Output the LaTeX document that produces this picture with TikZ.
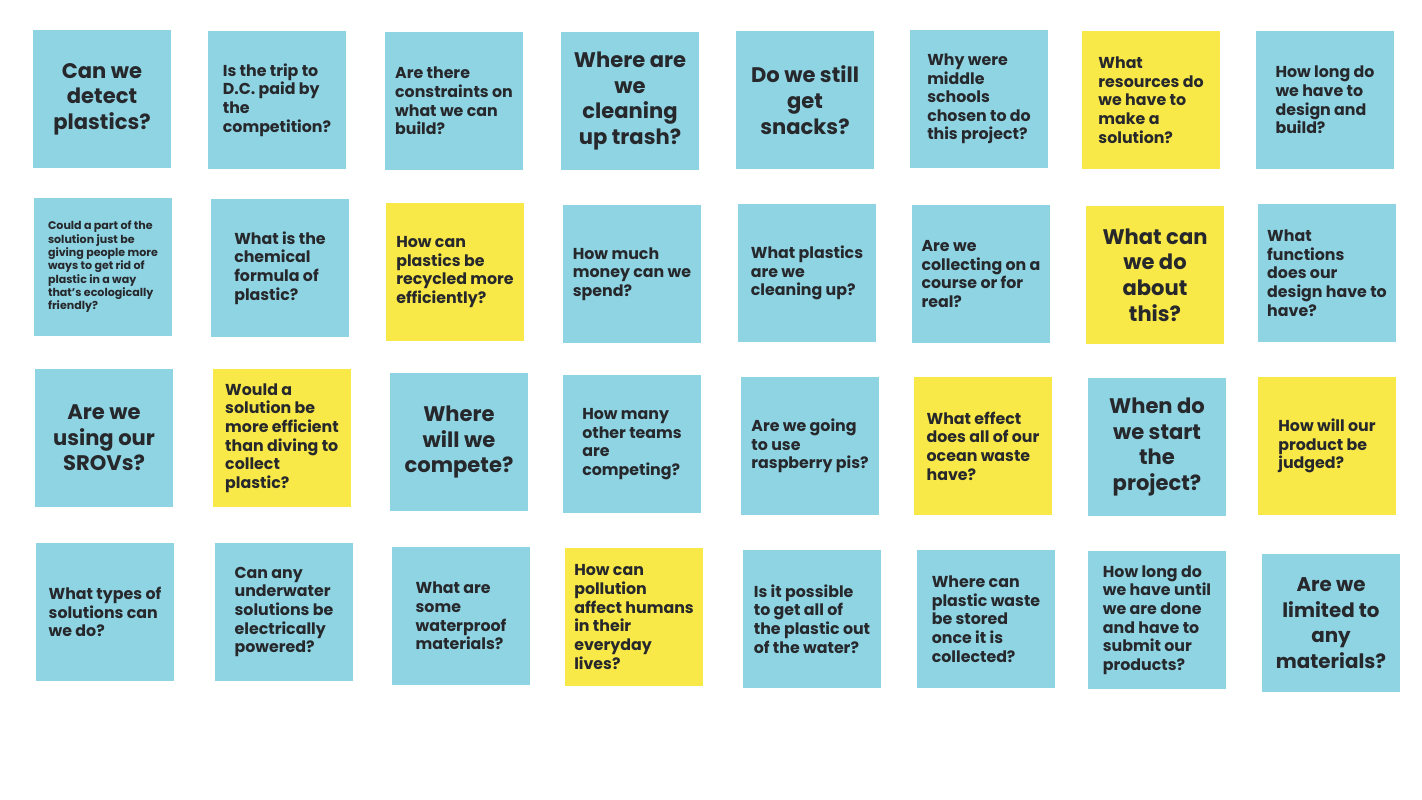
\documentclass[tikz,border=0pt]{standalone}
\usepackage{fontspec}
\setmainfont{Poppins}
\usepackage{tikz}
\definecolor{skyblue}{RGB}{143,212,227}
\definecolor{sunny}{RGB}{249,233,72}
\definecolor{ink}{RGB}{38,40,44}
\tikzset{
  sticky/.style={minimum width=2.76cm, minimum height=2.76cm, inner sep=0pt, text=ink},
  bluenote/.style={sticky, fill=skyblue},
  yellownote/.style={sticky, fill=sunny},
  bigq/.style={font=\bfseries\fontsize{12}{14.6}\selectfont, align=center},
  midq/.style={font=\bfseries\fontsize{9}{10.6}\selectfont, align=left},
  tinyq/.style={font=\bfseries\fontsize{6.3}{7.6}\selectfont, align=left}
}

\begin{document}
\begin{tikzpicture}[x=0.02cm, y=-0.02cm]
\useasboundingbox (0,0) rectangle (1422,800);
% first row
\node[bluenote, bigq] (q11) at (102,99) {Can we\\detect\\plastics?};
\node[bluenote, midq] (q12) at (277,100) {Is the trip to\\D.C. paid by\\the\\competition?};
\node[bluenote, midq] (q13) at (454,101) {Are there\\constraints on\\what we can\\build?};
\node[bluenote, bigq] (q14) at (630,101) {Where are\\we\\cleaning\\up trash?};
\node[bluenote, bigq] (q15) at (805,100) {Do we still\\get\\snacks?};
\node[bluenote, midq] (q16) at (979,99) {Why were\\middle\\schools\\chosen to do\\this project?};
\node[yellownote, midq] (q17) at (1151,100) {What\\resources do\\we have to\\make a\\solution?};
\node[bluenote, midq] (q18) at (1325,100) {How long do\\we have to\\design and\\build?};
% second row
\node[bluenote, tinyq] (q21) at (103,267) {Could a part of the\\solution just be\\giving people more\\ways to get rid of\\plastic in a way\\that's ecologically\\friendly?};
\node[bluenote, midq] (q22) at (280,268) {What is the\\chemical\\formula of\\plastic?};
\node[yellownote, midq] (q23) at (455,272) {How can\\plastics be\\recycled more\\efficiently?};
\node[bluenote, midq] (q24) at (632,274) {How much\\money can we\\spend?};
\node[bluenote, midq] (q25) at (807,273) {What plastics\\are we\\cleaning up?};
\node[bluenote, midq] (q26) at (981,274) {Are we\\collecting on a\\course or for\\real?};
\node[yellownote, bigq] (q27) at (1155,275) {What can\\we do\\about\\this?};
\node[bluenote, midq] (q28) at (1327,273) {What\\functions\\does our\\design have to\\have?};
% third row
\node[bluenote, bigq] (q31) at (104,438) {Are we\\using our\\SROVs?};
\node[yellownote, midq] (q32) at (282,438) {Would a\\solution be\\more efficient\\than diving to\\collect\\plastic?};
\node[bluenote, bigq] (q33) at (459,442) {Where\\will we\\compete?};
\node[bluenote, midq] (q34) at (632,444) {How many\\other teams\\are\\competing?};
\node[bluenote, midq] (q35) at (810,446) {Are we going\\to use\\raspberry pis?};
\node[yellownote, midq] (q36) at (983,446) {What effect\\does all of our\\ocean waste\\have?};
\node[bluenote, bigq] (q37) at (1157,447) {When do\\we start\\the\\project?};
\node[yellownote, midq] (q38) at (1327,446) {How will our\\product be\\judged?};
% fourth row
\node[bluenote, midq] (q41) at (105,612) {What types of\\solutions can\\we do?};
\node[bluenote, midq] (q42) at (284,612) {Can any\\underwater\\solutions be\\electrically\\powered?};
\node[bluenote, midq] (q43) at (461,616) {What are\\some\\waterproof\\materials?};
\node[yellownote, midq] (q44) at (634,617) {How can\\pollution\\affect humans\\in their\\everyday\\lives?};
\node[bluenote, midq] (q45) at (812,619) {Is it possible\\to get all of\\the plastic out\\of the water?};
\node[bluenote, midq] (q46) at (986,619) {Where can\\plastic waste\\be stored\\once it is\\collected?};
\node[bluenote, midq] (q47) at (1157,620) {How long do\\we have until\\we are done\\and have to\\submit our\\products?};
\node[bluenote, bigq, font=\bfseries\fontsize{11.3}{14.6}\selectfont] (q48) at (1331,623) {Are we\\limited to\\any\\materials?};
\end{tikzpicture}
\end{document}
